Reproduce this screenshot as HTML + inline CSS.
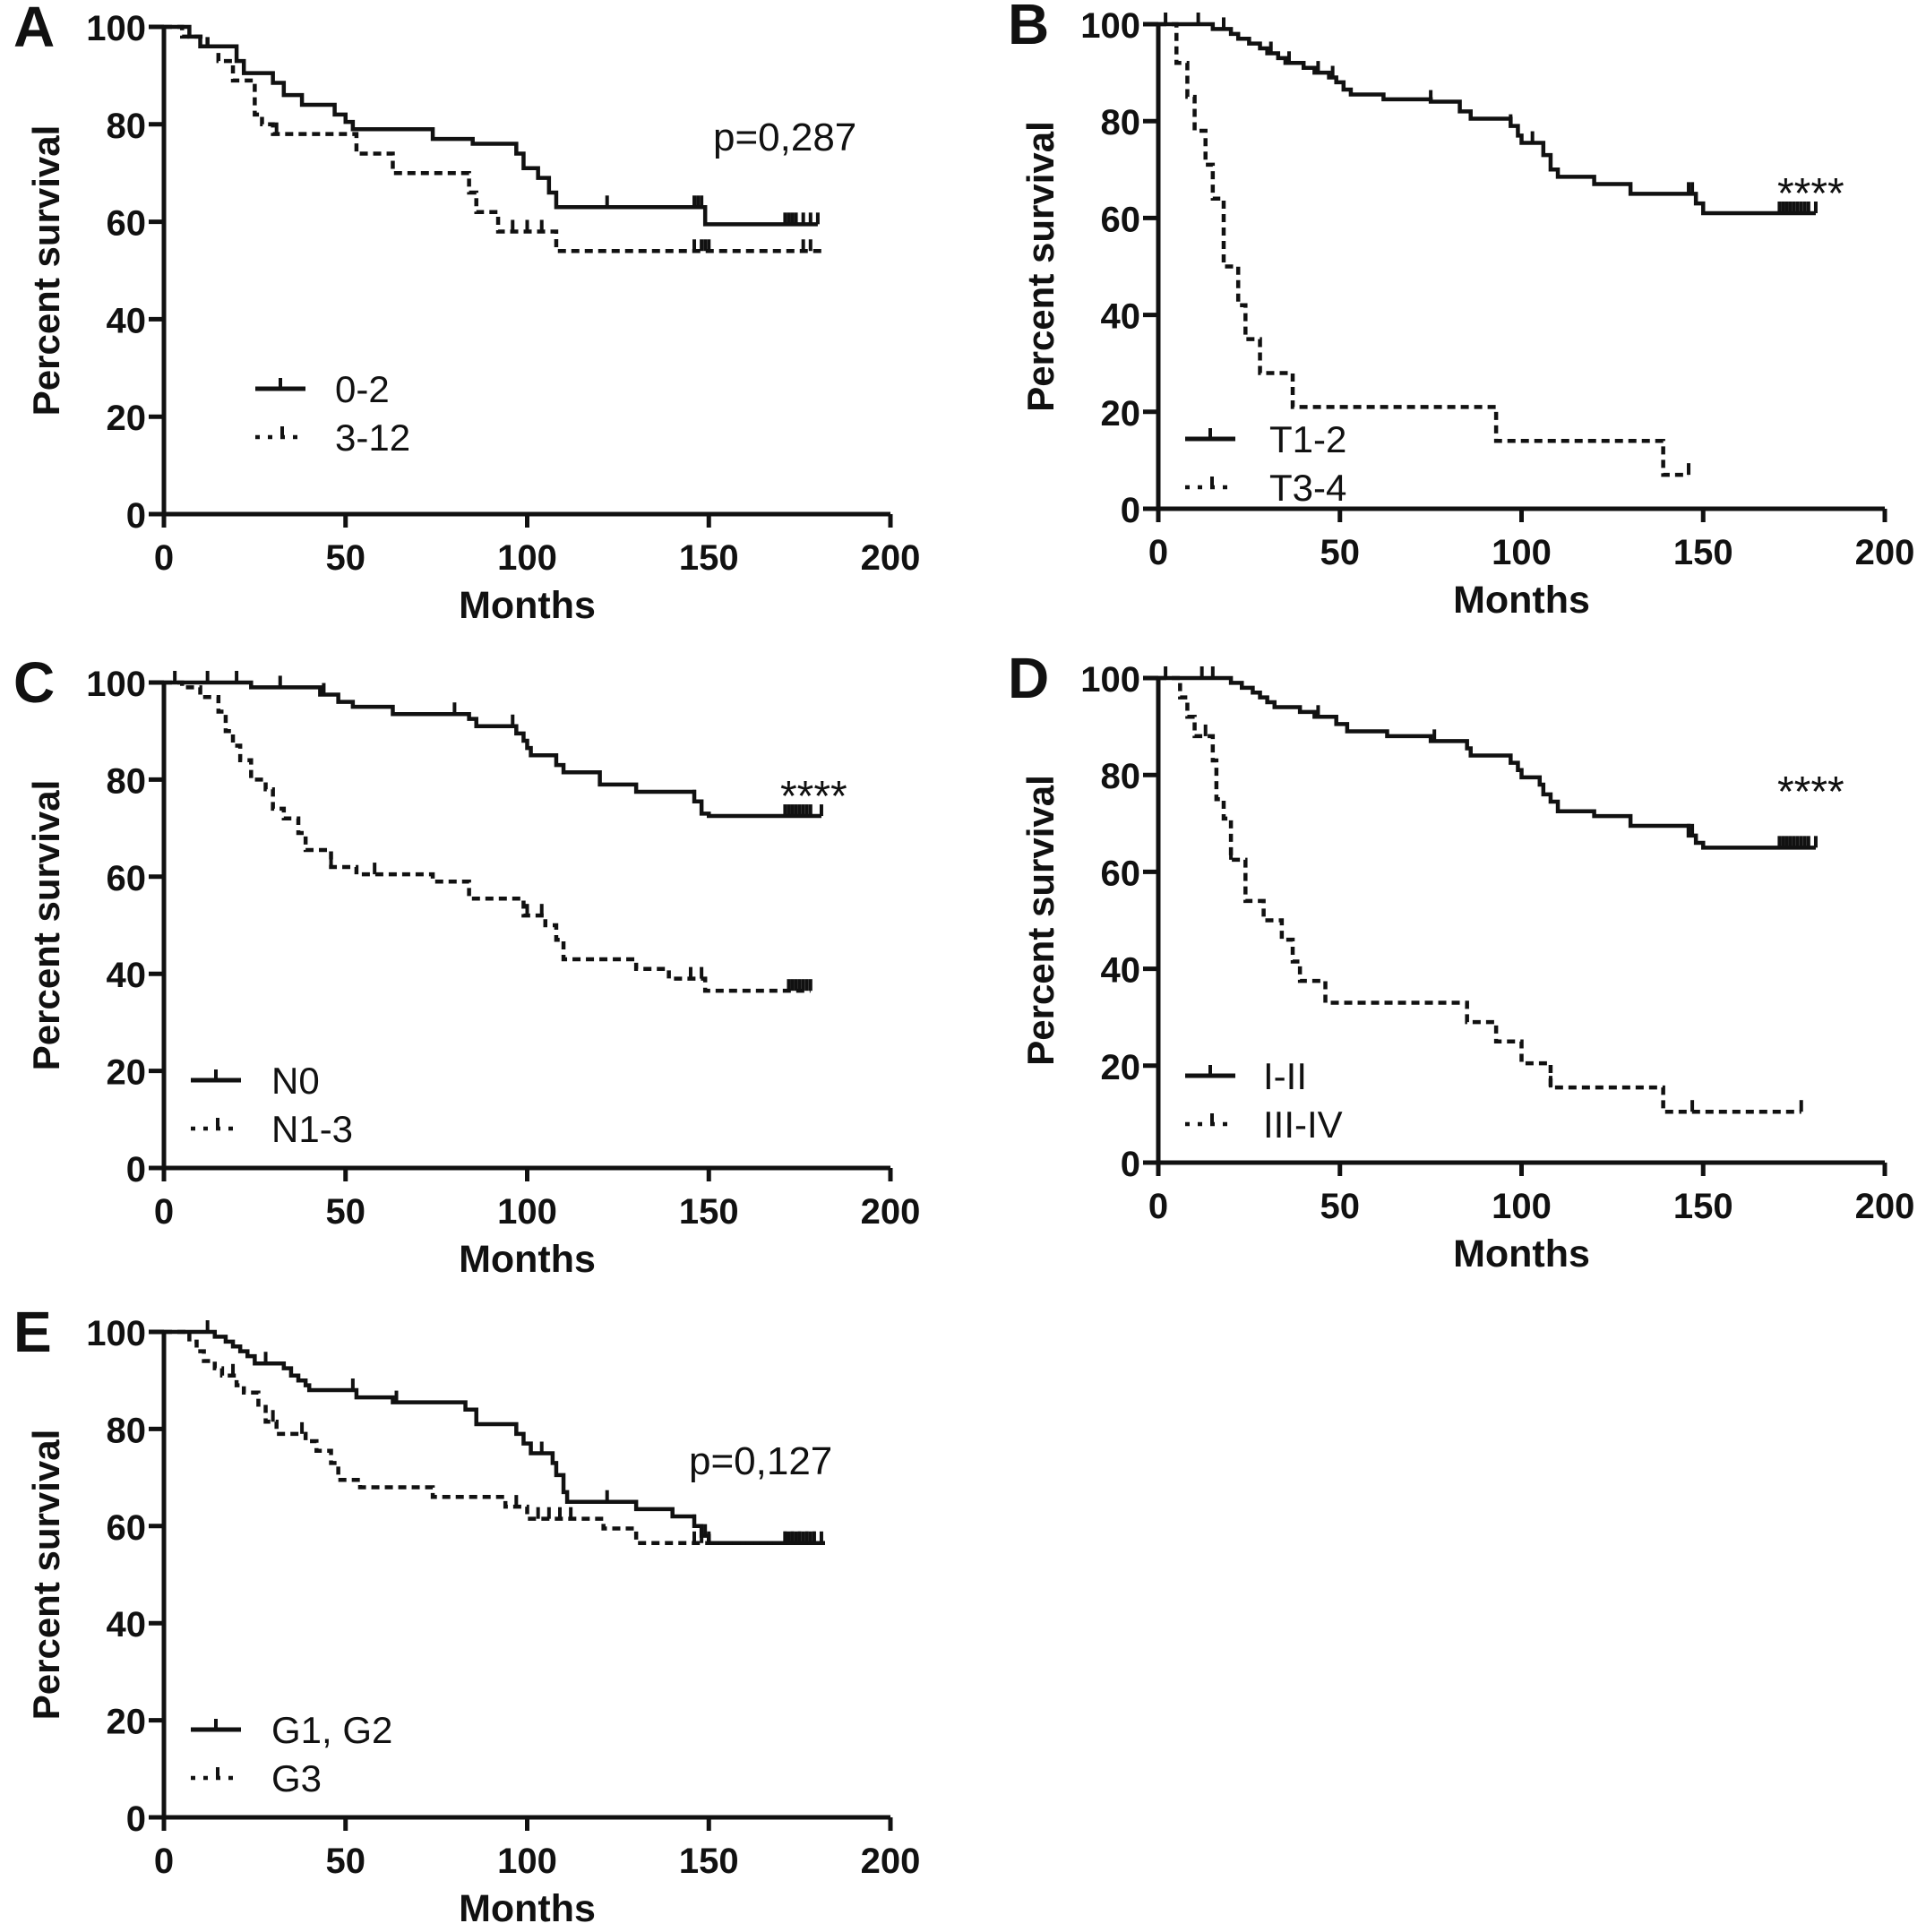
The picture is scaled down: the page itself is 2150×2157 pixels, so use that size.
<!DOCTYPE html>
<html><head><meta charset="utf-8">
<style>
html,body{margin:0;padding:0;background:#fff;}
svg{display:block;}
text{font-family:"Liberation Sans",Arial,sans-serif;fill:#111;}
</style></head>
<body>
<svg id="fig" width="2150" height="2157" viewBox="0 0 2150 2157" xmlns="http://www.w3.org/2000/svg"></svg>
<script>
// ---- data (months, percent survival) ----
const xTicks = [0, 50, 100, 150, 200];
const yTicks = [0, 20, 40, 60, 80, 100];

const aSolidT = [7, 10, 20, 22, 30, 33, 38, 47, 50, 52, 74, 85, 97, 99, 103, 106, 108, 149];
const aSolidS = [98, 96, 93, 90.5, 88.5, 86, 84, 82, 80.5, 79, 77, 76, 74, 71, 69, 66, 63, 59.5];
const aSolidC = [122, 146, 147, 148, 171, 172, 173, 174, 176, 178, 180];
const aSolidEnd = 180;
const aDashT = [5, 12, 15, 19, 25, 27, 30, 53, 63, 84, 86, 92, 108];
const aDashS = [98, 96, 93, 89, 82, 80, 78, 74, 70, 66, 62, 58, 54];
const aDashC = [31, 96, 100, 104, 146, 148, 149, 150, 176, 178];
const aDashEnd = 182;

const bSolidT = [15, 20, 22, 25, 28, 30, 33, 35, 40, 43, 47, 49, 51, 53, 62, 75, 83, 86, 97, 99, 100, 106, 108, 110, 120, 130, 148, 150];
const bSolidS = [99, 98, 97, 96, 95, 94, 93, 92, 91, 90, 89, 88, 86.5, 85.5, 84.5, 84, 82, 80.5, 79, 77, 75.5, 73, 70, 68.5, 67, 65, 63, 61];
const bSolidC = [2, 11, 18, 31, 36, 44, 48, 75, 97, 103, 146, 147, 171, 172, 173, 174, 175, 176, 177, 178, 179, 181];
const bSolidEnd = 181;
const bDashT = [5, 8, 10, 13, 15, 18, 22, 24, 28, 37, 93, 139];
const bDashS = [92, 85, 78, 71, 64, 50, 42, 35, 28, 21, 14, 7];
const bDashC = [146];
const bDashEnd = 146;

const cSolidT = [24, 43, 48, 52, 63, 84, 86, 97, 99, 100, 101, 108, 110, 120, 130, 146, 148, 150];
const cSolidS = [99, 97.5, 96, 95, 93.5, 92.5, 91, 89.5, 88, 86.5, 85, 83, 81.5, 79, 77.5, 75.5, 73, 72.5];
const cSolidC = [3, 12, 20, 32, 44, 80, 96, 146, 171, 172, 173, 174, 175, 176, 177, 178, 181];
const cSolidEnd = 181;
const cDashT = [5, 10, 15, 17, 19, 21, 24, 28, 30, 33, 37, 39, 46, 53, 74, 84, 99, 105, 108, 110, 130, 139, 149];
const cDashS = [99, 97, 94, 90, 87, 84, 80, 78, 74, 72, 69, 65.5, 62, 60.5, 59, 55.5, 52, 50, 47, 43, 41, 39, 36.5];
const cDashC = [46, 58, 100, 104, 145, 148, 172, 173, 174, 175, 176, 177, 178];
const cDashEnd = 178;

const dSolidT = [20, 23, 26, 28, 30, 32, 39, 43, 49, 52, 63, 75, 85, 86, 97, 99, 100, 105, 106, 108, 110, 120, 130, 146, 148, 150];
const dSolidS = [99, 98, 97, 96, 95, 94, 93, 92, 90.5, 89, 88, 87, 85.5, 84, 82.5, 81, 79.5, 78, 76, 74.5, 72.5, 71.5, 69.5, 67.5, 66, 65];
const dSolidC = [2, 12, 15, 44, 76, 146, 147, 171, 172, 173, 174, 175, 176, 177, 178, 179, 181];
const dSolidEnd = 181;
const dDashT = [6, 8, 10, 15, 16, 18, 20, 24, 29, 34, 37, 39, 46, 85, 93, 100, 108, 139];
const dDashS = [96, 92, 88, 83, 75, 71, 62.5, 54, 50, 46, 41.5, 37.5, 33, 29, 25, 20.5, 15.5, 10.5];
const dDashC = [13, 20, 108, 147, 177];
const dDashEnd = 177;

const eSolidT = [14, 17, 19, 21, 23, 25, 33, 35, 37, 39, 40, 53, 63, 83, 86, 97, 99, 101, 107, 108, 110, 111, 130, 140, 146, 148, 150];
const eSolidS = [99, 98, 97, 96, 95, 93.5, 92.5, 91, 90, 89, 88, 86.5, 85.5, 84, 81, 79, 77, 75, 73, 70.5, 67, 65, 63.5, 62, 60, 58, 56.5];
const eSolidC = [12, 28, 52, 64, 101, 104, 122, 146, 149, 150, 171, 172, 173, 174, 175, 176, 177, 178, 179, 181];
const eSolidEnd = 182;
const eDashT = [7, 9, 11, 14, 16, 20, 22, 26, 28, 31, 39, 42, 46, 48, 54, 74, 94, 100, 121, 130];
const eDashS = [98, 96, 94, 92.5, 91, 89, 87.5, 85, 81.5, 79, 77.5, 75.5, 73, 69.5, 68, 66, 64, 61.5, 59.5, 56.5];
const eDashC = [19, 30, 38, 97, 103, 106, 109, 112, 146, 148, 171, 173, 175, 177, 179];
const eDashEnd = 182;

// ---- drawing ----
const NS = "http://www.w3.org/2000/svg";
const svg = document.getElementById("fig");
function mk(tag, attrs, parent) {
  const e = document.createElementNS(NS, tag);
  for (const k in attrs) e.setAttribute(k, attrs[k]);
  (parent || svg).appendChild(e);
  return e;
}
function stepVal(T, S, t) {
  let v = 100;
  for (let i = 0; i < T.length; i++) if (T[i] <= t) v = S[i];
  return v;
}
function drawPanel(p) {
  const g = mk("g", {});
  
  
  const X = t => p.x0 + (t / 200) * (p.x1 - p.x0);
  const Y = v => p.y0 - (v / 100) * (p.y0 - p.y1);

  const lab = mk("text", {x: p.x0 - 168, y: p.y1 + 22, "font-size": 64, "font-weight": "bold"}, g);
  lab.textContent = p.letter;
  
  

  const ax = mk("path", {d: `M${p.x0},${p.y1 - 2} V${p.y0} H${p.x1}`, fill: "none", stroke: "#111", "stroke-width": 5}, g);
  
  

  xTicks.forEach(t => {
    mk("line", {x1: X(t), x2: X(t), y1: p.y0, y2: p.y0 + 15, stroke: "#111", "stroke-width": 5}, g);
    const tx = mk("text", {x: X(t), y: p.y0 + 62, "font-size": 40, "font-weight": "bold", "text-anchor": "middle"}, g);
    tx.textContent = t;
    
    
  });
  yTicks.forEach(v => {
    mk("line", {x1: p.x0 - 17, x2: p.x0, y1: Y(v), y2: Y(v), stroke: "#111", "stroke-width": 5}, g);
    const ty = mk("text", {x: p.x0 - 20, y: Y(v) + 15, "font-size": 40, "font-weight": "bold", "text-anchor": "end"}, g);
    ty.textContent = v;
    
    
  });
  const xt = mk("text", {x: (p.x0 + p.x1) / 2, y: p.y0 + 116, "font-size": 43, "font-weight": "bold", "text-anchor": "middle"}, g);
  xt.textContent = "Months";
  
  
  const cy = (p.y0 + p.y1) / 2;
  const yt = mk("text", {x: p.x0 - 117, y: cy, "font-size": 42, "font-weight": "bold", "text-anchor": "middle", transform: `rotate(-90 ${p.x0 - 117} ${cy})`}, g);
  yt.textContent = "Percent survival";
  
  

  function series(T, S, C, end, dashed, name) {
    let d = `M${X(0)},${Y(100)}`;
    for (let i = 0; i < T.length; i++) d += ` H${X(T[i])} V${Y(S[i])}`;
    d += ` H${X(end)}`;
    const attrs = {d: d, fill: "none", stroke: "#111", "stroke-width": 4.5};
    if (dashed) attrs["stroke-dasharray"] = "9 6";
    const path = mk("path", attrs, g);
    
    
    C.forEach(t => {
      const v = stepVal(T, S, t);
      const c = mk("line", {x1: X(t), x2: X(t), y1: Y(v), y2: Y(v) - 13, stroke: "#111", "stroke-width": 4}, g);
      
      
    });
  }
  series(p.sT, p.sS, p.sC, p.sEnd, false, "solid-group");
  series(p.dT, p.dS, p.dC, p.dEnd, true, "dashed-group");

  // legend
  const lg = mk("g", {}, g);
  
  
  mk("line", {x1: p.lx, x2: p.lx + 56, y1: p.ly, y2: p.ly, stroke: "#111", "stroke-width": 5}, lg);
  mk("line", {x1: p.lx + 28, x2: p.lx + 28, y1: p.ly, y2: p.ly - 12, stroke: "#111", "stroke-width": 4}, lg);
  mk("line", {x1: p.lx, x2: p.lx + 56, y1: p.ly + 54, y2: p.ly + 54, stroke: "#111", "stroke-width": 4.5, "stroke-dasharray": "5 9"}, lg);
  mk("line", {x1: p.lx + 30, x2: p.lx + 30, y1: p.ly + 54, y2: p.ly + 42, stroke: "#111", "stroke-width": 4}, lg);
  const l1 = mk("text", {x: p.tx, y: p.ly + 15, "font-size": 42}, lg);
  l1.textContent = p.n1;
  
  
  const l2 = mk("text", {x: p.tx, y: p.ly + 69, "font-size": 42}, lg);
  l2.textContent = p.n2;
  
  

  const an = mk("text", {x: p.ax, y: p.ay, "font-size": p.afs}, g);
  an.textContent = p.ann;
  
  
}

drawPanel({letter: "A", x0: 183, x1: 994, y0: 574, y1: 30,
  sT: aSolidT, sS: aSolidS, sC: aSolidC, sEnd: aSolidEnd,
  dT: aDashT, dS: aDashS, dC: aDashC, dEnd: aDashEnd,
  lx: 285, ly: 434, tx: 374, n1: "0-2", n2: "3-12",
  ann: "p=0,287", ax: 796, ay: 168, afs: 44});
drawPanel({letter: "B", x0: 1293, x1: 2104, y0: 568, y1: 27,
  sT: bSolidT, sS: bSolidS, sC: bSolidC, sEnd: bSolidEnd,
  dT: bDashT, dS: bDashS, dC: bDashC, dEnd: bDashEnd,
  lx: 1323, ly: 490, tx: 1417, n1: "T1-2", n2: "T3-4",
  ann: "****", ax: 1984, ay: 232, afs: 48});
drawPanel({letter: "C", x0: 183, x1: 994, y0: 1304, y1: 762,
  sT: cSolidT, sS: cSolidS, sC: cSolidC, sEnd: cSolidEnd,
  dT: cDashT, dS: cDashS, dC: cDashC, dEnd: cDashEnd,
  lx: 213, ly: 1206, tx: 303, n1: "N0", n2: "N1-3",
  ann: "****", ax: 871, ay: 905, afs: 48});
drawPanel({letter: "D", x0: 1293, x1: 2104, y0: 1298, y1: 757,
  sT: dSolidT, sS: dSolidS, sC: dSolidC, sEnd: dSolidEnd,
  dT: dDashT, dS: dDashS, dC: dDashC, dEnd: dDashEnd,
  lx: 1323, ly: 1201, tx: 1410, n1: "I-II", n2: "III-IV",
  ann: "****", ax: 1984, ay: 900, afs: 48});
drawPanel({letter: "E", x0: 183, x1: 994, y0: 2029, y1: 1487,
  sT: eSolidT, sS: eSolidS, sC: eSolidC, sEnd: eSolidEnd,
  dT: eDashT, dS: eDashS, dC: eDashC, dEnd: eDashEnd,
  lx: 213, ly: 1931, tx: 303, n1: "G1, G2", n2: "G3",
  ann: "p=0,127", ax: 769, ay: 1646, afs: 44});
</script>
</body></html>
